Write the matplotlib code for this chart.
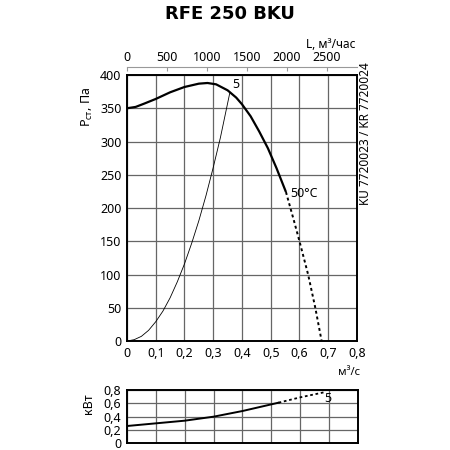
import matplotlib
matplotlib.use('Agg')
import matplotlib.pyplot as plt
from matplotlib.ticker import FuncFormatter

plt.rcParams['font.family'] = ['Noto Sans', 'DejaVu Sans']

# fan curve, Pa vs m3/s (solid part)
q_fan = [0.00, 0.03, 0.06, 0.10, 0.15, 0.20, 0.25, 0.28, 0.31, 0.35, 0.38, 0.40, 0.43, 0.46, 0.49, 0.52, 0.553]
p_fan = [350, 352, 357, 364, 374, 382, 387, 388, 386, 377, 366, 356, 338, 315, 290, 260, 224]
# dashed continuation
q_fan_d = [0.553, 0.58, 0.60, 0.63, 0.655, 0.677]
p_fan_d = [224, 182, 150, 100, 50, 0]

# system curve "5"
q_sys = [0.0, 0.025, 0.05, 0.075, 0.10, 0.125, 0.15, 0.175, 0.20, 0.225, 0.25, 0.275, 0.30, 0.325, 0.358]
p_sys = [0, 2, 7, 16, 29, 45, 65, 89, 116, 147, 181, 219, 261, 306, 374]

# power, kW
q_pow = [0.0, 0.1, 0.2, 0.3, 0.4, 0.5, 0.525]
n_pow = [0.26, 0.30, 0.34, 0.40, 0.485, 0.585, 0.61]
q_pow_d = [0.525, 0.6, 0.682]
n_pow_d = [0.61, 0.69, 0.765]

x_ticks = [0, 0.1, 0.2, 0.3, 0.4, 0.5, 0.6, 0.7, 0.8]
y_ticks = [0, 50, 100, 150, 200, 250, 300, 350, 400]
l_ticks = [0, 500, 1000, 1500, 2000, 2500]
n_ticks = [0, 0.2, 0.4, 0.6, 0.8]

gridc = '#666666'
comma = FuncFormatter(lambda v, p: ('%g' % v).replace('.', ','))

fig = plt.figure(figsize=(4.5, 4.5), dpi=100)
ax = fig.add_axes([0.2822, 0.2422, 0.5111, 0.5911])
ax.set_xlim(0, 0.8)
ax.set_ylim(0, 400)
ax.set_xticks(x_ticks)
ax.set_yticks(y_ticks)
ax.xaxis.set_major_formatter(comma)
ax.grid(True, color=gridc, lw=0.9)
ax.tick_params(length=0, labelsize=9, pad=4)
for s in ax.spines.values():
    s.set_linewidth(1.4)

ax.plot(q_fan, p_fan, color='black', lw=1.6, solid_capstyle='butt')
ax.plot(q_fan_d, p_fan_d, color='black', lw=1.4, ls=(0, (1.5, 1.5)))
ax.plot(q_sys, p_sys, color='black', lw=0.6)
ax.text(0.38, 386, '5', fontsize=9, ha='center', va='center')
ax.text(0.567, 222, '50°C', fontsize=9, ha='left', va='center')

ax.set_ylabel(r'P$_\mathregular{ст}$, Па', fontsize=9, labelpad=4)
ax.yaxis.set_label_coords(-0.14, 0.88)

# top axis, m3/h
sec = ax.secondary_xaxis('top', functions=(lambda q: q * 3600, lambda l: l / 3600))
sec.set_xticks(l_ticks)
sec.spines['top'].set_position(('outward', 6))
sec.spines['top'].set_color('#999999')
sec.tick_params(direction='in', length=3, labelsize=9, pad=2, color='#999999')
fig.text(0.735, 0.9, 'L, м³/час', fontsize=8.5, ha='center', va='center')

fig.text(0.812, 0.702, 'KU 7720023 / KR 7720024', fontsize=8.5, rotation=90,
         ha='center', va='center')
fig.text(0.775, 0.172, 'м³/с', fontsize=8, ha='center', va='center')

fig.text(0.51, 0.968, 'RFE 250 BKU', fontsize=13, fontweight='bold',
         family='DejaVu Sans', ha='center', va='center')

# power panel
ax2 = fig.add_axes([0.2822, 0.0148, 0.5133, 0.1185])
ax2.set_xlim(0, 0.8)
ax2.set_ylim(0, 0.8)
ax2.set_xticks(x_ticks)
ax2.set_yticks(n_ticks)
ax2.yaxis.set_major_formatter(comma)
ax2.set_xticklabels([])
ax2.grid(True, color=gridc, lw=0.9)
ax2.tick_params(length=0, labelsize=9, pad=4)
for s in ax2.spines.values():
    s.set_linewidth(1.4)
ax2.plot(q_pow, n_pow, color='black', lw=1.4)
ax2.plot(q_pow_d, n_pow_d, color='black', lw=1.3, ls=(0, (1.5, 1.5)))
ax2.text(0.696, 0.68, '5', fontsize=9, ha='center', va='center')
ax2.set_ylabel('кВт', fontsize=9)
ax2.yaxis.set_label_coords(-0.14, 0.75)

fig.savefig('out.png', dpi=100)
